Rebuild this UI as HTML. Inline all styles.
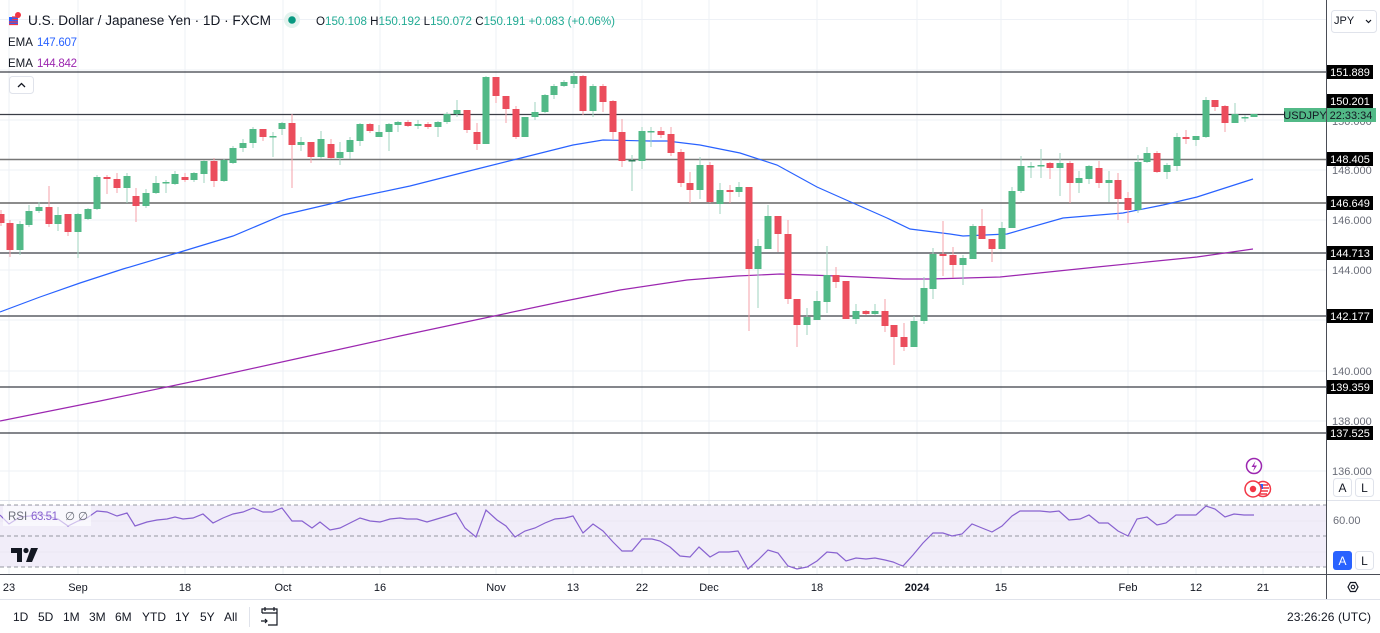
<!DOCTYPE html>
<html><head><meta charset="utf-8"><style>
html,body{margin:0;padding:0;background:#fff;}
svg{display:block;font-family:"Liberation Sans",sans-serif;}
.g rect{fill:#52b987}.g line{stroke:#9fd3bf;stroke-width:1}
.r rect{fill:#eb4d5c}.r line{stroke:#f4a1aa;stroke-width:1}
</style></head><body>
<svg width="1380" height="633" viewBox="0 0 1380 633" xmlns="http://www.w3.org/2000/svg">
<rect width="1380" height="633" fill="#fff"/>
<!-- grid -->
<g stroke="#eef1f6" stroke-width="1">
<line x1="9" y1="0" x2="9" y2="574"/><line x1="78" y1="0" x2="78" y2="574"/><line x1="185" y1="0" x2="185" y2="574"/><line x1="283" y1="0" x2="283" y2="574"/><line x1="380" y1="0" x2="380" y2="574"/><line x1="496" y1="0" x2="496" y2="574"/><line x1="573" y1="0" x2="573" y2="574"/><line x1="642" y1="0" x2="642" y2="574"/><line x1="709" y1="0" x2="709" y2="574"/><line x1="817" y1="0" x2="817" y2="574"/><line x1="917" y1="0" x2="917" y2="574"/><line x1="1001" y1="0" x2="1001" y2="574"/><line x1="1128" y1="0" x2="1128" y2="574"/><line x1="1196" y1="0" x2="1196" y2="574"/><line x1="1263" y1="0" x2="1263" y2="574"/>
<line x1="0" y1="19.5" x2="1326" y2="19.5"/><line x1="0" y1="70" x2="1326" y2="70"/><line x1="0" y1="120" x2="1326" y2="120"/><line x1="0" y1="170" x2="1326" y2="170"/><line x1="0" y1="220" x2="1326" y2="220"/><line x1="0" y1="270" x2="1326" y2="270"/><line x1="0" y1="320" x2="1326" y2="320"/><line x1="0" y1="371" x2="1326" y2="371"/><line x1="0" y1="421" x2="1326" y2="421"/><line x1="0" y1="471" x2="1326" y2="471"/>
</g>
<!-- RSI pane -->
<line x1="0" y1="500.5" x2="1380" y2="500.5" stroke="#e0e3eb" stroke-width="1"/>
<rect x="0" y="505" width="1326" height="62" fill="#f1edf9"/>
<g stroke="#eae6f3"><line x1="0" y1="521" x2="1326" y2="521"/><line x1="0" y1="552" x2="1326" y2="552"/></g>
<g stroke="#9598a1" stroke-width="1" stroke-dasharray="4 3"><line x1="0" y1="505" x2="1326" y2="505"/><line x1="0" y1="536" x2="1326" y2="536"/><line x1="0" y1="567" x2="1326" y2="567"/></g>
<polyline fill="none" stroke="#8862d0" stroke-width="1.2" points="0,515 9,524 20,517 30,516 40,514 50,517 58,519 68,526 78,521 87,518 97,511 107,512 117,516 127,513 135,526 147,522 157,520 167,519 175,517 183,519 193,518 203,514 213,523 223,518 233,514 243,512 253,508 263,512 272,512 282,508 292,521 302,521 312,528 320,522 330,530 340,528 350,523 360,518 370,521 380,522 390,519 400,518 407,519 417,519 427,522 437,519 447,516 456,513 465,528 476,537 486,510 497,520 506,526 515,537 525,531 535,528 545,523 555,519 565,518 573,516 583,533 593,524 603,531 613,542 622,551 632,551 642,539 652,539 660,541 670,547 680,556 690,557 699,547 710,557 719,552 729,552 738,551 748,569 758,560 768,550 778,553 788,566 797,569 807,567 817,561 827,552 837,553 846,561 856,558 866,559 875,558 885,560 893,562 900,565 903,566 913,555 923,543 933,533 943,533 952,536 962,534 972,524 982,528 992,532 1002,526 1012,516 1020,511 1030,511 1040,511 1050,512 1059,511 1069,520 1080,519 1089,515 1099,523 1108,523 1118,531 1128,536 1137,519 1147,517 1157,525 1166,523 1176,515 1186,515 1196,515 1206,506 1215,509 1225,517 1234,514 1244,515 1254,515"/>
<rect x="3" y="506" width="88" height="20" fill="#fff" opacity="0.6"/>
<text x="8" y="520" font-size="11.5" fill="#6a6d78">RSI</text>
<text x="31" y="520" font-size="11.5" fill="#8862d0" textLength="27">63.51</text>
<text x="65" y="520" font-size="11.5" fill="#6a6d78">∅</text>
<text x="78" y="520" font-size="11.5" fill="#6a6d78">∅</text>
<!-- TV logo -->
<g fill="#131722"><path d="M11 548h11v14h-5v-9h-6z"/><circle cx="26" cy="550.5" r="2.6"/><path d="M31 548h7l-6 14h-6z"/></g>
<!-- horizontal level lines -->
<g stroke="#3a3d46" stroke-width="1.2">
<line x1="0" y1="72" x2="1326" y2="72"/><line x1="0" y1="114.5" x2="1326" y2="114.5"/><line x1="0" y1="159.5" x2="1326" y2="159.5" stroke="#777" stroke-width="1.6"/><line x1="0" y1="203" x2="1326" y2="203" stroke="#666" stroke-width="1.5"/><line x1="0" y1="253" x2="1326" y2="253"/><line x1="0" y1="316" x2="1326" y2="316"/><line x1="0" y1="387" x2="1326" y2="387"/><line x1="0" y1="433" x2="1326" y2="433"/>
</g>
<!-- EMAs -->
<polyline fill="none" stroke="#9c27b0" stroke-width="1.2" points="0,421 100,401 200,380 300,358 400,336 480,319 560,302 620,290 687,280 737,276 780,274 837,276 903,279 930,279 1000,277 1097,267 1197,257 1253,249"/>
<polyline fill="none" stroke="#2962ff" stroke-width="1.2" points="0,312 40,297 80,283 123,269 177,253 233,236 283,215 330,204 348,199 410,186 477,169 513,160 573,145 603,140 650,141 667,141 700,145 740,153 777,165 817,187 853,203 887,218 910,229 950,234 963,236 1007,234 1063,218 1123,213 1163,205 1197,197 1253,179"/>
<!-- candles -->
<g class="r"><line x1="1" y1="210" x2="1" y2="226"/><rect x="-2.5" y="214" width="7" height="9"/></g>
<g class="r"><line x1="10" y1="220" x2="10" y2="257"/><rect x="6.5" y="223" width="7" height="27"/></g>
<g class="g"><line x1="20" y1="221" x2="20" y2="255"/><rect x="16.5" y="224" width="7" height="26"/></g>
<g class="g"><line x1="29" y1="205" x2="29" y2="227"/><rect x="25.5" y="211" width="7" height="14"/></g>
<g class="g"><line x1="39" y1="202" x2="39" y2="213"/><rect x="35.5" y="207" width="7" height="4"/></g>
<g class="r"><line x1="49" y1="186" x2="49" y2="227"/><rect x="45.5" y="207" width="7" height="17"/></g>
<g class="g"><line x1="58" y1="207" x2="58" y2="231"/><rect x="54.5" y="215" width="7" height="9"/></g>
<g class="r"><line x1="68" y1="214" x2="68" y2="236"/><rect x="64.5" y="214" width="7" height="18"/></g>
<g class="g"><line x1="78" y1="213" x2="78" y2="258"/><rect x="74.5" y="214" width="7" height="18"/></g>
<g class="g"><line x1="88" y1="208" x2="88" y2="220"/><rect x="84.5" y="209" width="7" height="10"/></g>
<g class="g"><line x1="97" y1="175" x2="97" y2="210"/><rect x="93.5" y="177" width="7" height="32"/></g>
<g class="r"><line x1="107" y1="175" x2="107" y2="194"/><rect x="103.5" y="177" width="7" height="2"/></g>
<g class="r"><line x1="117" y1="173" x2="117" y2="193"/><rect x="113.5" y="179" width="7" height="9"/></g>
<g class="g"><line x1="127" y1="173" x2="127" y2="203"/><rect x="123.5" y="176" width="7" height="12"/></g>
<g class="r"><line x1="136" y1="188" x2="136" y2="222"/><rect x="132.5" y="196" width="7" height="10"/></g>
<g class="g"><line x1="146" y1="189" x2="146" y2="208"/><rect x="142.5" y="193" width="7" height="13"/></g>
<g class="g"><line x1="156" y1="176" x2="156" y2="194"/><rect x="152.5" y="183" width="7" height="10"/></g>
<g class="g"><line x1="166" y1="180" x2="166" y2="193"/><rect x="162.5" y="182" width="7" height="1.5"/></g>
<g class="g"><line x1="175" y1="171" x2="175" y2="185"/><rect x="171.5" y="174" width="7" height="10"/></g>
<g class="r"><line x1="185" y1="173" x2="185" y2="182"/><rect x="181.5" y="177" width="7" height="3"/></g>
<g class="g"><line x1="194" y1="172" x2="194" y2="182"/><rect x="190.5" y="173" width="7" height="7"/></g>
<g class="g"><line x1="204" y1="160" x2="204" y2="183"/><rect x="200.5" y="161" width="7" height="13"/></g>
<g class="r"><line x1="214" y1="158" x2="214" y2="187"/><rect x="210.5" y="161" width="7" height="20"/></g>
<g class="g"><line x1="224" y1="159" x2="224" y2="182"/><rect x="220.5" y="160" width="7" height="21"/></g>
<g class="g"><line x1="233" y1="146" x2="233" y2="164"/><rect x="229.5" y="148" width="7" height="15"/></g>
<g class="g"><line x1="243" y1="139" x2="243" y2="152"/><rect x="239.5" y="143" width="7" height="5"/></g>
<g class="g"><line x1="253" y1="127" x2="253" y2="148"/><rect x="249.5" y="129" width="7" height="14"/></g>
<g class="r"><line x1="263" y1="129" x2="263" y2="141"/><rect x="259.5" y="129" width="7" height="8"/></g>
<g class="g"><line x1="273" y1="132" x2="273" y2="157"/><rect x="269.5" y="136" width="7" height="1.5"/></g>
<g class="g"><line x1="282" y1="122" x2="282" y2="135"/><rect x="278.5" y="123" width="7" height="6"/></g>
<g class="r"><line x1="292" y1="114" x2="292" y2="188"/><rect x="288.5" y="123" width="7" height="22"/></g>
<g class="g"><line x1="301" y1="137" x2="301" y2="151"/><rect x="297.5" y="142" width="7" height="3"/></g>
<g class="r"><line x1="311" y1="142" x2="311" y2="163"/><rect x="307.5" y="142" width="7" height="15"/></g>
<g class="g"><line x1="321" y1="131" x2="321" y2="159"/><rect x="317.5" y="139" width="7" height="18"/></g>
<g class="r"><line x1="331" y1="139" x2="331" y2="159"/><rect x="327.5" y="144" width="7" height="14"/></g>
<g class="g"><line x1="340" y1="142" x2="340" y2="165"/><rect x="336.5" y="152" width="7" height="6"/></g>
<g class="g"><line x1="350" y1="137" x2="350" y2="159"/><rect x="346.5" y="140" width="7" height="12"/></g>
<g class="g"><line x1="360" y1="123" x2="360" y2="146"/><rect x="356.5" y="124" width="7" height="17"/></g>
<g class="r"><line x1="370" y1="123" x2="370" y2="133"/><rect x="366.5" y="124" width="7" height="7"/></g>
<g class="g"><line x1="379" y1="125" x2="379" y2="137"/><rect x="375.5" y="132" width="7" height="5"/></g>
<g class="g"><line x1="389" y1="123" x2="389" y2="151"/><rect x="385.5" y="124" width="7" height="8"/></g>
<g class="g"><line x1="398" y1="121" x2="398" y2="132"/><rect x="394.5" y="122" width="7" height="3"/></g>
<g class="r"><line x1="408" y1="120" x2="408" y2="127"/><rect x="404.5" y="122" width="7" height="4"/></g>
<g class="g"><line x1="418" y1="120" x2="418" y2="129"/><rect x="414.5" y="124" width="7" height="2"/></g>
<g class="r"><line x1="428" y1="122" x2="428" y2="129"/><rect x="424.5" y="124" width="7" height="3"/></g>
<g class="g"><line x1="438" y1="121" x2="438" y2="137"/><rect x="434.5" y="122" width="7" height="5"/></g>
<g class="g"><line x1="447" y1="112" x2="447" y2="124"/><rect x="443.5" y="114" width="7" height="8"/></g>
<g class="g"><line x1="457" y1="100" x2="457" y2="117"/><rect x="453.5" y="110" width="7" height="4"/></g>
<g class="r"><line x1="467" y1="110" x2="467" y2="133"/><rect x="463.5" y="110" width="7" height="20"/></g>
<g class="r"><line x1="477" y1="123" x2="477" y2="150"/><rect x="473.5" y="132" width="7" height="12"/></g>
<g class="g"><line x1="486" y1="76" x2="486" y2="144"/><rect x="482.5" y="77" width="7" height="67"/></g>
<g class="r"><line x1="496" y1="77" x2="496" y2="103"/><rect x="492.5" y="77" width="7" height="19"/></g>
<g class="r"><line x1="506" y1="96" x2="506" y2="123"/><rect x="502.5" y="96" width="7" height="13"/></g>
<g class="r"><line x1="516" y1="106" x2="516" y2="139"/><rect x="512.5" y="109" width="7" height="28"/></g>
<g class="g"><line x1="525" y1="117" x2="525" y2="137"/><rect x="521.5" y="117" width="7" height="20"/></g>
<g class="g"><line x1="535" y1="102" x2="535" y2="120"/><rect x="531.5" y="112" width="7" height="5"/></g>
<g class="g"><line x1="545" y1="94" x2="545" y2="113"/><rect x="541.5" y="95" width="7" height="17"/></g>
<g class="g"><line x1="554" y1="84" x2="554" y2="99"/><rect x="550.5" y="86" width="7" height="9"/></g>
<g class="g"><line x1="564" y1="80" x2="564" y2="87"/><rect x="560.5" y="82" width="7" height="4"/></g>
<g class="g"><line x1="574" y1="72" x2="574" y2="88"/><rect x="570.5" y="76" width="7" height="8"/></g>
<g class="r"><line x1="583" y1="75" x2="583" y2="115"/><rect x="579.5" y="76" width="7" height="35"/></g>
<g class="g"><line x1="593" y1="84" x2="593" y2="117"/><rect x="589.5" y="86" width="7" height="25"/></g>
<g class="r"><line x1="603" y1="84" x2="603" y2="112"/><rect x="599.5" y="86" width="7" height="16"/></g>
<g class="r"><line x1="613" y1="100" x2="613" y2="140"/><rect x="609.5" y="101" width="7" height="31"/></g>
<g class="r"><line x1="622" y1="119" x2="622" y2="167"/><rect x="618.5" y="132" width="7" height="29"/></g>
<g class="g"><line x1="632" y1="155" x2="632" y2="191"/><rect x="628.5" y="160" width="7" height="1.5" style="fill:#2e7d5b"/></g>
<g class="g"><line x1="642" y1="127" x2="642" y2="169"/><rect x="638.5" y="131" width="7" height="30"/></g>
<g class="g"><line x1="651" y1="127" x2="651" y2="147"/><rect x="647.5" y="131" width="7" height="1.5"/></g>
<g class="r"><line x1="661" y1="127" x2="661" y2="138"/><rect x="657.5" y="131" width="7" height="4"/></g>
<g class="r"><line x1="671" y1="127" x2="671" y2="156"/><rect x="667.5" y="134" width="7" height="19"/></g>
<g class="r"><line x1="681" y1="149" x2="681" y2="187"/><rect x="677.5" y="152" width="7" height="31"/></g>
<g class="r"><line x1="690" y1="172" x2="690" y2="203"/><rect x="686.5" y="183" width="7" height="7"/></g>
<g class="g"><line x1="700" y1="157" x2="700" y2="199"/><rect x="696.5" y="165" width="7" height="25"/></g>
<g class="r"><line x1="710" y1="162" x2="710" y2="203"/><rect x="706.5" y="165" width="7" height="37"/></g>
<g class="g"><line x1="720" y1="183" x2="720" y2="214"/><rect x="716.5" y="190" width="7" height="14"/></g>
<g class="r"><line x1="730" y1="185" x2="730" y2="203"/><rect x="726.5" y="190" width="7" height="2"/></g>
<g class="g"><line x1="739" y1="182" x2="739" y2="197"/><rect x="735.5" y="187" width="7" height="5"/></g>
<g class="r"><line x1="749" y1="187" x2="749" y2="331"/><rect x="745.5" y="187" width="7" height="82"/></g>
<g class="g"><line x1="758" y1="239" x2="758" y2="308"/><rect x="754.5" y="246" width="7" height="23"/></g>
<g class="g"><line x1="768" y1="205" x2="768" y2="249"/><rect x="764.5" y="216" width="7" height="33"/></g>
<g class="r"><line x1="778" y1="216" x2="778" y2="252"/><rect x="774.5" y="216" width="7" height="18"/></g>
<g class="r"><line x1="788" y1="220" x2="788" y2="304"/><rect x="784.5" y="234" width="7" height="65"/></g>
<g class="r"><line x1="797" y1="299" x2="797" y2="347"/><rect x="793.5" y="299" width="7" height="26"/></g>
<g class="g"><line x1="807" y1="308" x2="807" y2="335"/><rect x="803.5" y="317" width="7" height="8"/></g>
<g class="g"><line x1="817" y1="291" x2="817" y2="320"/><rect x="813.5" y="301" width="7" height="19"/></g>
<g class="g"><line x1="827" y1="246" x2="827" y2="313"/><rect x="823.5" y="275" width="7" height="27"/></g>
<g class="r"><line x1="836" y1="267" x2="836" y2="288"/><rect x="832.5" y="275" width="7" height="7"/></g>
<g class="r"><line x1="846" y1="281" x2="846" y2="319"/><rect x="842.5" y="281" width="7" height="38"/></g>
<g class="g"><line x1="856" y1="304" x2="856" y2="324"/><rect x="852.5" y="311" width="7" height="8"/></g>
<g class="r"><line x1="866" y1="310" x2="866" y2="315"/><rect x="862.5" y="311" width="7" height="3"/></g>
<g class="g"><line x1="875" y1="304" x2="875" y2="315"/><rect x="871.5" y="311" width="7" height="3"/></g>
<g class="r"><line x1="885" y1="299" x2="885" y2="332"/><rect x="881.5" y="311" width="7" height="15"/></g>
<g class="r"><line x1="894" y1="325" x2="894" y2="365"/><rect x="890.5" y="325" width="7" height="12"/></g>
<g class="r"><line x1="904" y1="323" x2="904" y2="351"/><rect x="900.5" y="337" width="7" height="10"/></g>
<g class="g"><line x1="914" y1="316" x2="914" y2="347"/><rect x="910.5" y="321" width="7" height="26"/></g>
<g class="g"><line x1="924" y1="277" x2="924" y2="324"/><rect x="920.5" y="288" width="7" height="33"/></g>
<g class="g"><line x1="933" y1="248" x2="933" y2="299"/><rect x="929.5" y="254" width="7" height="35"/></g>
<g class="r"><line x1="943" y1="221" x2="943" y2="276"/><rect x="939.5" y="254" width="7" height="2"/></g>
<g class="r"><line x1="953" y1="247" x2="953" y2="278"/><rect x="949.5" y="255" width="7" height="10"/></g>
<g class="g"><line x1="963" y1="255" x2="963" y2="285"/><rect x="959.5" y="258" width="7" height="7"/></g>
<g class="g"><line x1="973" y1="224" x2="973" y2="259"/><rect x="969.5" y="226" width="7" height="33"/></g>
<g class="r"><line x1="982" y1="209" x2="982" y2="239"/><rect x="978.5" y="226" width="7" height="13"/></g>
<g class="r"><line x1="992" y1="239" x2="992" y2="262"/><rect x="988.5" y="239" width="7" height="10"/></g>
<g class="g"><line x1="1002" y1="222" x2="1002" y2="249"/><rect x="998.5" y="228" width="7" height="21"/></g>
<g class="g"><line x1="1012" y1="187" x2="1012" y2="228"/><rect x="1008.5" y="191" width="7" height="37"/></g>
<g class="g"><line x1="1021" y1="156" x2="1021" y2="193"/><rect x="1017.5" y="166" width="7" height="25"/></g>
<g class="g"><line x1="1031" y1="162" x2="1031" y2="178"/><rect x="1027.5" y="166" width="7" height="1.5"/></g>
<g class="g"><line x1="1041" y1="149" x2="1041" y2="178"/><rect x="1037.5" y="165" width="7" height="1.5"/></g>
<g class="r"><line x1="1050" y1="162" x2="1050" y2="179"/><rect x="1046.5" y="163" width="7" height="5"/></g>
<g class="g"><line x1="1060" y1="153" x2="1060" y2="196"/><rect x="1056.5" y="163" width="7" height="5"/></g>
<g class="r"><line x1="1070" y1="161" x2="1070" y2="203"/><rect x="1066.5" y="163" width="7" height="20"/></g>
<g class="g"><line x1="1079" y1="171" x2="1079" y2="193"/><rect x="1075.5" y="178" width="7" height="5"/></g>
<g class="g"><line x1="1089" y1="165" x2="1089" y2="184"/><rect x="1085.5" y="166" width="7" height="13"/></g>
<g class="r"><line x1="1099" y1="161" x2="1099" y2="188"/><rect x="1095.5" y="168" width="7" height="15"/></g>
<g class="g"><line x1="1109" y1="171" x2="1109" y2="202"/><rect x="1105.5" y="180" width="7" height="3"/></g>
<g class="r"><line x1="1118" y1="173" x2="1118" y2="220"/><rect x="1114.5" y="180" width="7" height="19"/></g>
<g class="r"><line x1="1128" y1="192" x2="1128" y2="223"/><rect x="1124.5" y="198" width="7" height="12"/></g>
<g class="g"><line x1="1138" y1="155" x2="1138" y2="213"/><rect x="1134.5" y="162" width="7" height="48"/></g>
<g class="g"><line x1="1147" y1="147" x2="1147" y2="163"/><rect x="1143.5" y="153" width="7" height="9"/></g>
<g class="r"><line x1="1157" y1="151" x2="1157" y2="173"/><rect x="1153.5" y="153" width="7" height="19"/></g>
<g class="g"><line x1="1167" y1="163" x2="1167" y2="179"/><rect x="1163.5" y="165" width="7" height="7"/></g>
<g class="g"><line x1="1177" y1="133" x2="1177" y2="171"/><rect x="1173.5" y="137" width="7" height="29"/></g>
<g class="r"><line x1="1186" y1="130" x2="1186" y2="144"/><rect x="1182.5" y="137" width="7" height="2"/></g>
<g class="g"><line x1="1196" y1="136" x2="1196" y2="146"/><rect x="1192.5" y="136" width="7" height="4"/></g>
<g class="g"><line x1="1206" y1="97" x2="1206" y2="138"/><rect x="1202.5" y="100" width="7" height="37"/></g>
<g class="r"><line x1="1215" y1="100" x2="1215" y2="111"/><rect x="1211.5" y="100" width="7" height="7"/></g>
<g class="r"><line x1="1225" y1="105" x2="1225" y2="132"/><rect x="1221.5" y="106" width="7" height="17"/></g>
<g class="g"><line x1="1235" y1="103" x2="1235" y2="123"/><rect x="1231.5" y="114" width="7" height="9"/></g>
<g class="g"><line x1="1245" y1="115" x2="1245" y2="122"/><rect x="1241.5" y="117" width="7" height="1.5"/></g>
<g class="g"><line x1="1254" y1="114" x2="1254" y2="117"/><rect x="1250.5" y="114" width="7" height="3"/></g>
<!-- event icons -->
<circle cx="1254" cy="466" r="7.5" fill="#fff" stroke="#9c27b0" stroke-width="1.5"/>
<path d="M1255.5 461l-4 6h3l-1.5 4.5 4-6h-3z" fill="#9c27b0"/>
<circle cx="1263" cy="489" r="7.5" fill="#fff" stroke="#f23645" stroke-width="1.5"/>
<path d="M1259 484h4v5h-4z" fill="#2962ff"/><path d="M1263 485h5M1263 488h6M1258 491h10M1259 494h8" stroke="#f23645" stroke-width="1.4"/>
<circle cx="1253" cy="489" r="8" fill="#fff" stroke="#f23645" stroke-width="1.5"/>
<circle cx="1253" cy="489" r="3.2" fill="#f23645"/>
<!-- axes -->
<line x1="1326.5" y1="0" x2="1326.5" y2="599" stroke="#4a4d56" stroke-width="1"/>
<line x1="0" y1="574.5" x2="1380" y2="574.5" stroke="#4a4d56" stroke-width="1"/>
<line x1="0" y1="599.5" x2="1380" y2="599.5" stroke="#e0e3eb" stroke-width="1"/>
<!-- right tick labels -->
<g font-size="11" fill="#6a6d78">
<text x="1332" y="174">148.000</text><text x="1332" y="224">146.000</text><text x="1332" y="274">144.000</text><text x="1332" y="375">140.000</text><text x="1332" y="425">138.000</text><text x="1332" y="475">136.000</text><text x="1332" y="125">150.000</text>
<text x="1333" y="524">60.00</text>
</g>
<!-- level labels -->
<g>
<rect x="1327" y="65" width="46" height="14" fill="#000"/><rect x="1327" y="94" width="46" height="14" fill="#000"/><rect x="1327" y="152" width="46" height="14" fill="#000"/><rect x="1327" y="196" width="46" height="14" fill="#000"/><rect x="1327" y="246" width="46" height="14" fill="#000"/><rect x="1327" y="309" width="46" height="14" fill="#000"/><rect x="1327" y="380" width="46" height="14" fill="#000"/><rect x="1327" y="426" width="46" height="14" fill="#000"/>
</g>
<g font-size="11" fill="#fff" text-anchor="middle">
<text x="1350" y="76">151.889</text><text x="1350" y="105">150.201</text><text x="1350" y="163">148.405</text><text x="1350" y="207">146.649</text><text x="1350" y="257">144.713</text><text x="1350" y="320">142.177</text><text x="1350" y="391">139.359</text><text x="1350" y="437">137.525</text>
</g>
<!-- current price label -->
<rect x="1284" y="108" width="42" height="14" fill="#52b987"/>
<rect x="1327" y="108" width="49" height="14" fill="#52b987"/>
<text x="1305" y="119" font-size="11" fill="#131722" text-anchor="middle">USDJPY</text>
<text x="1351" y="119" font-size="11" fill="#131722" text-anchor="middle">22:33:34</text>
<!-- JPY dropdown -->
<rect x="1331.5" y="10.5" width="45" height="22" rx="3" fill="#fff" stroke="#e0e3eb"/>
<text x="1334" y="24" font-size="11" fill="#131722">JPY</text>
<path d="M1366 20l2.5 2.5 2.5-2.5" fill="none" stroke="#131722" stroke-width="1.2"/>
<!-- A / L buttons -->
<rect x="1333.5" y="478.5" width="18" height="18" rx="3" fill="#fff" stroke="#e0e3eb"/><text x="1342.5" y="492" font-size="12" fill="#131722" text-anchor="middle">A</text>
<rect x="1355.5" y="478.5" width="18" height="18" rx="3" fill="#fff" stroke="#e0e3eb"/><text x="1364.5" y="492" font-size="12" fill="#131722" text-anchor="middle">L</text>
<rect x="1333" y="551" width="19" height="19" rx="3" fill="#2962ff"/><text x="1342.5" y="565" font-size="12" fill="#fff" text-anchor="middle">A</text>
<rect x="1355.5" y="551.5" width="18" height="18" rx="3" fill="#fff" stroke="#e0e3eb"/><text x="1364.5" y="565" font-size="12" fill="#131722" text-anchor="middle">L</text>
<!-- gear -->
<path d="M1348 587l2.5-4.5h5l2.5 4.5-2.5 4.5h-5z" fill="none" stroke="#131722" stroke-width="1.2"/><circle cx="1353" cy="587" r="1.8" fill="none" stroke="#131722" stroke-width="1.1"/>
<!-- date labels -->
<g font-size="11" fill="#131722" text-anchor="middle">
<text x="9" y="591">23</text><text x="78" y="591">Sep</text><text x="185" y="591">18</text><text x="283" y="591">Oct</text><text x="380" y="591">16</text><text x="496" y="591">Nov</text><text x="573" y="591">13</text><text x="642" y="591">22</text><text x="709" y="591">Dec</text><text x="817" y="591">18</text><text x="917" y="591" font-weight="bold">2024</text><text x="1001" y="591">15</text><text x="1128" y="591">Feb</text><text x="1196" y="591">12</text><text x="1263" y="591">21</text>
</g>
<!-- bottom toolbar -->
<g font-size="12" fill="#131722">
<text x="13" y="621">1D</text><text x="38" y="621">5D</text><text x="63" y="621">1M</text><text x="89" y="621">3M</text><text x="115" y="621">6M</text><text x="142" y="621">YTD</text><text x="175" y="621">1Y</text><text x="200" y="621">5Y</text><text x="224" y="621">All</text>
<text x="1287" y="621" textLength="84">23:26:26 (UTC)</text>
</g>
<line x1="249.5" y1="607" x2="249.5" y2="627" stroke="#e0e3eb"/>
<g fill="none" stroke="#131722" stroke-width="1.2"><path d="M262 613v-4h15v16h-9"/><path d="M262 613h15M265 607v4M274 607v4"/><path d="M261 621h6m-2-2l2 2-2 2"/></g>
<!-- header -->
<g>
<rect x="9" y="17" width="9" height="8" fill="#2962ff"/><path d="M12 17h6M12 19.5h6M9 22h9M9 24.5h9" stroke="#f23645" stroke-width="1.2"/><circle cx="18" cy="15" r="3" fill="#f23645"/>
</g>
<text x="28" y="25" font-size="13.5" fill="#131722" textLength="243" lengthAdjust="spacingAndGlyphs">U.S. Dollar / Japanese Yen · 1D · FXCM</text>
<circle cx="292" cy="20" r="8" fill="#e3f3ee"/><circle cx="292" cy="20" r="3.8" fill="#089981"/>
<text x="316" y="25" font-size="12.2" textLength="299" lengthAdjust="spacingAndGlyphs"><tspan fill="#131722">O</tspan><tspan fill="#22ab94">150.108 </tspan><tspan fill="#131722">H</tspan><tspan fill="#22ab94">150.192 </tspan><tspan fill="#131722">L</tspan><tspan fill="#22ab94">150.072 </tspan><tspan fill="#131722">C</tspan><tspan fill="#22ab94">150.191 +0.083 (+0.06%)</tspan></text>
<text x="8" y="46" font-size="11.5" fill="#131722">EMA</text><text x="37" y="46" font-size="11.5" fill="#2962ff" textLength="40">147.607</text>
<text x="8" y="67" font-size="11.5" fill="#131722">EMA</text><text x="37" y="67" font-size="11.5" fill="#9c27b0" textLength="40">144.842</text>
<rect x="9.5" y="76.5" width="24" height="17" rx="3" fill="#fff" stroke="#e0e3eb"/>
<path d="M18 87l3.5-3.5 3.5 3.5" fill="none" stroke="#131722" stroke-width="1.3"/>
</svg>
</body></html>
